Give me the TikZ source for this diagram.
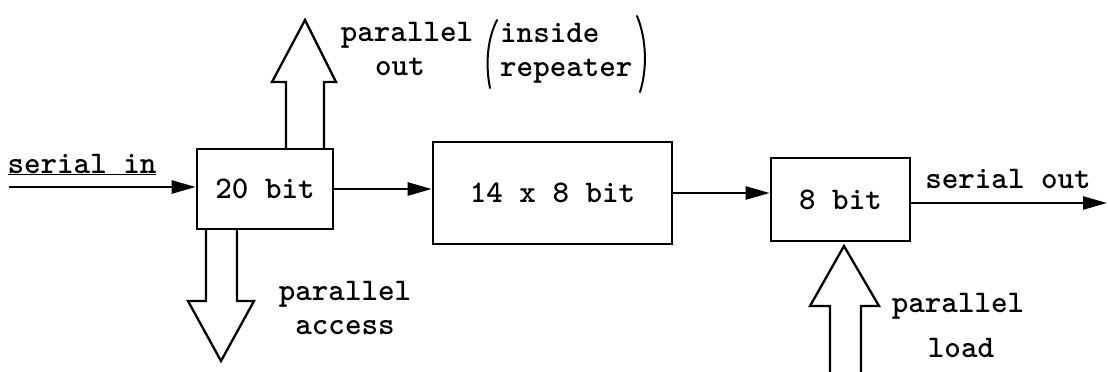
\documentclass[tikz,border=0pt]{standalone}
\usetikzlibrary{arrows.meta}
\begin{document}
\begin{tikzpicture}[x=1pt,y=-1pt,
  box/.style={draw, line width=2.6pt, inner sep=0pt, font=\fontsize{31.5}{32}\selectfont\ttfamily\bfseries},
  txt/.style={font=\fontsize{31.5}{32}\selectfont\ttfamily\bfseries, inner sep=0pt, anchor=base},
  sig/.style={-{Triangle[length=24pt,width=13pt]}, line width=2.4pt},
  bus/.style={line width=2.3pt, line join=miter},
  paren/.style={line width=2pt, line cap=round}]
\useasboundingbox (0,0) rectangle (1108,372);

% boxes
\node[box, minimum width=136pt, minimum height=80pt] (b20) at (265,189) {20 bit};
\node[box, minimum width=239pt, minimum height=102pt] (b14) at (552.5,193) {14 x 8 bit};
\node[box, minimum width=139pt, minimum height=83pt] (b8) at (840.5,199.5) {8 bit};

% serial signals
\coordinate (sin) at (9,187);
\coordinate (sout) at (1107,203);
\draw[sig] (sin) -- (sin -| b20.west);
\draw[sig] (b20.east) -- (b20.east -| b14.west);
\draw[sig] (b14.east) -- (b14.east -| b8.west);
\draw[sig] (b8.east |- sout) -- (sout);

\node[txt] (tsin) at (82,173) {\underline{serial in}};
\node[txt] (tsout) at (1008,188) {serial out};

% parallel out (up)
\draw[bus] (286,149) -- (286,82) -- (272,82) -- (305,20) -- (336,82) -- (324,82) -- (324,149);
% parallel access (down)
\draw[bus] (206,229) -- (206,301) -- (188,301) -- (221,361) -- (254,301) -- (237,301) -- (237,229);
% parallel load (up into 8 bit)
\draw[bus] (830,374) -- (830,306) -- (810,306) -- (844,246) -- (879,306) -- (861,306) -- (861,374);

% labels
\node[txt] (po1) at (407,41) {parallel};
\node[txt] (po2) at (400,75) {out};
\node[txt, anchor=base west] (ir1) at (500,42) {inside};
\node[txt, anchor=base west] (ir2) at (500,76) {repeater};
\draw[paren] (497,20) .. controls (486,42) and (486,68) .. (490,88);
\draw[paren] (637,16) .. controls (647,40) and (647,70) .. (640,92);

\node[txt] (pa1) at (345,300) {parallel};
\node[txt] (pa2) at (345,334) {access};

\node[txt] (pl1) at (958,312) {parallel};
\node[txt] (pl2) at (961,357) {load};
\end{tikzpicture}
\end{document}
